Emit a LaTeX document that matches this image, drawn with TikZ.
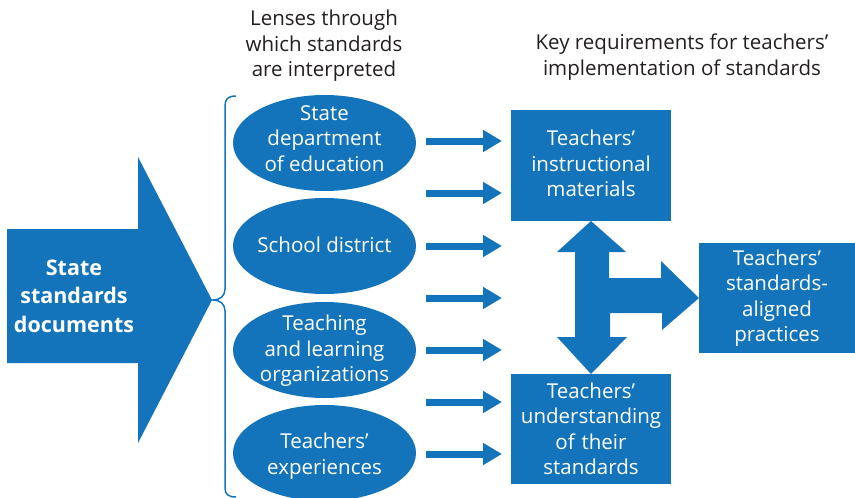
\documentclass[tikz,border=0pt]{standalone}
\usepackage{fontspec}
\setmainfont{Open Sans}
\usetikzlibrary{arrows.meta,shapes.geometric}
\definecolor{rblue}{HTML}{1474BB}
\definecolor{ink}{HTML}{231F20}

\begin{document}
\begin{tikzpicture}[x=1pt,y=-1pt,
  every node/.style={inner sep=0pt, outer sep=0pt},
  basetext/.style={align=center, font=\fontsize{20.5}{25.5}\selectfont},
  header/.style={basetext, text=ink},
  lens/.style={ellipse, fill=rblue, minimum width=183pt, minimum height=96pt},
  lenstext/.style={basetext, text=white},
  reqbox/.style={rectangle, fill=rblue, text=white, basetext,
                 minimum width=160pt, text width=156pt},
  sourcetext/.style={align=center, text=white,
                 font=\fontsize{21.5}{28.5}\selectfont\bfseries},
  flow/.style={draw=rblue, line width=7pt,
               -{Triangle[length=19pt,width=21pt]}},
  bracket/.style={draw=rblue, line width=1.5pt},
]
\useasboundingbox (0,0) rectangle (855,498);

% column headers
\node[header] (hLens) at (324,46) {Lenses through\\which standards\\are interpreted};
\node[header] (hReq) at (682,57) {Key requirements for teachers'\\implementation of standards};

% big source arrow
\fill[rblue] (7,229) -- (138,229) -- (138,157) -- (212,300) -- (138,443)
  -- (138,363) -- (7,363) -- cycle;
\node[sourcetext] (src) at (74,296) {State\\standards\\documents};

% curly bracket gathering the lenses
\draw[bracket] (236,96) .. controls (228,96) and (225,99) .. (225,106)
  -- (225,289) .. controls (225,296) and (220,300) .. (213,300)
  .. controls (220,300) and (225,304) .. (225,311)
  -- (225,488) .. controls (225,494) and (228,497) .. (236,497);

% lenses
\node[lens] (e1) at (324.5,143) {};
\node[lens] (e2) at (324.5,246) {};
\node[lens] (e3) at (324.5,350) {};
\node[lens] (e4) at (324.5,453) {};
\node[lenstext] at (324.5,138.5) {State\\department\\of education};
\node[lenstext] at (324.5,245) {School district};
\node[lenstext] at (324.5,351) {Teaching\\and learning\\organizations};
\node[lenstext] at (324.5,456) {Teachers'\\experiences};

% requirement boxes
\node[reqbox, minimum height=111pt] (instr) at (591,165.5) {};
\node[basetext, text=white] at (591,163.5) {Teachers'\\instructional\\materials};
\node[reqbox, minimum height=110pt] (under) at (591,429)
  {Teachers'\\understanding\\of their\\standards};
\node[reqbox, minimum width=156pt, text width=150pt, minimum height=110pt]
  (practice) at (777,298) {Teachers'\\standards-\\aligned\\practices};

% flow arrows from the lenses to the requirements
\foreach \i/\y in {1/141,2/193,3/246,4/298,5/350,6/402,7/454}{
  \coordinate (s\i) at (426,\y);
  \coordinate (t\i) at (502,\y);
  \draw[flow] (s\i) -- (t\i);
}

% two-way arrow between the requirements, branching to practices
\fill[rblue] (instr.south) -- ++(35,31) -- ++(-17,0) -- ++(0,26) -- ++(52,0)
  -- ++(0,-17) -- (practice.west) -- (662,330) -- (662,313) -- (610,313)
  -- (610,337) -- (627,337) -- (under.north) -- (557,337) -- (575,337)
  -- (575,252) -- (557,252) -- cycle;
\end{tikzpicture}
\end{document}
